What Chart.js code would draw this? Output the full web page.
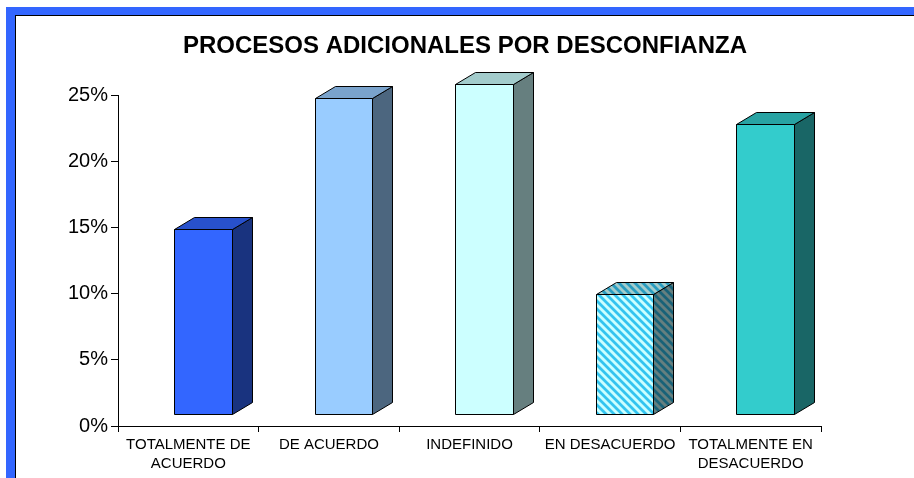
<!DOCTYPE html>
<html>
<head>
<meta charset="utf-8">
<script src="https://cdn.jsdelivr.net/npm/chart.js@4"></script>
<style>
body{margin:0;background:#fff;}
#frame{position:absolute;left:6px;top:7px;width:908px;height:471px;box-sizing:border-box;border-left:9px solid #3366ff;border-top:8px solid #3366ff;}
#inner{position:absolute;left:0;top:0;right:0;bottom:0;border-left:1px solid #000;border-top:1px solid #000;}
#wrap{position:absolute;left:16px;top:16px;width:898px;height:462px;}
</style>
</head>
<body>
<div id="frame"><div id="inner"></div></div>
<div id="wrap"><canvas id="c1"></canvas></div>
<script>
const categories = [['TOTALMENTE DE', 'ACUERDO'], 'DE ACUERDO', 'INDEFINIDO', 'EN DESACUERDO', ['TOTALMENTE EN', 'DESACUERDO']];
const values = [14.9, 24.8, 25.8, 10, 22.8]; // percent
const frontColors = ['#3366ff', '#99ccff', '#ccffff', 'stripes', '#33cccc'];
const yTicks = [0, 5, 10, 15, 20, 25];

const FONT = 'Liberation Sans, Arial, sans-serif';
const DX = 20, DY = 12;      // 3d depth
const SHIFT = 14.5, LIFT = 12;

const makeStripes = (ctx) => {
    const c = document.createElement('canvas');
    c.width = 8; c.height = 8;
    const g = c.getContext('2d');
    g.fillStyle = '#ccffff';
    g.fillRect(0, 0, 8, 8);
    g.strokeStyle = '#33c4f0';
    g.lineWidth = 2.8;
    g.beginPath();
    g.moveTo(-2, -2); g.lineTo(10, 10);
    g.moveTo(-2, 6); g.lineTo(2, 10);
    g.moveTo(6, -2); g.lineTo(10, 2);
    g.stroke();
    return ctx.createPattern(c, 'repeat');
};

const face = (ctx, pts, fill, shade) => {
    ctx.beginPath();
    ctx.moveTo(pts[0][0], pts[0][1]);
    for (let k = 1; k < pts.length; k++) ctx.lineTo(pts[k][0], pts[k][1]);
    ctx.closePath();
    ctx.fillStyle = fill;
    ctx.fill();
    if (shade) {
        ctx.fillStyle = 'rgba(0,0,0,' + shade + ')';
        ctx.fill();
    }
    ctx.stroke();
};

const bars3d = {
    id: 'bars3d',
    afterDatasetsDraw(chart) {
        const ctx = chart.ctx;
        const meta = chart.getDatasetMeta(0);
        ctx.save();
        ctx.strokeStyle = '#000';
        ctx.lineWidth = 1;
        ctx.lineJoin = 'miter';
        meta.data.forEach((bar, i) => {
            let fill = frontColors[i];
            if (fill === 'stripes') fill = makeStripes(ctx);
            const x0 = Math.round(bar.x - bar.width / 2 + SHIFT) + 0.5;
            const x1 = Math.round(bar.x + bar.width / 2 + SHIFT) + 0.5;
            const yT = Math.round(bar.y) + 0.5;
            const yB = Math.round(bar.base - LIFT) + 0.5;
            face(ctx, [[x1, yT], [x1 + DX, yT - DY], [x1 + DX, yB - DY], [x1, yB]], fill, 0.5);
            face(ctx, [[x0, yT], [x0 + DX, yT - DY], [x1 + DX, yT - DY], [x1, yT]], fill, 0.2);
            face(ctx, [[x0, yT], [x1, yT], [x1, yB], [x0, yB]], fill, 0);
        });
        ctx.restore();
    }
};

const data = {
    labels: categories,
    datasets: [{
        label: 'Procesos adicionales',
        data: values,
        backgroundColor: 'rgba(0,0,0,0)',
        borderWidth: 0,
        categoryPercentage: 1,
        barPercentage: 0.41
    }]
};

const options = {
    responsive: true,
    maintainAspectRatio: false,
    animation: false,
    layout: {padding: 0},
    plugins: {
        legend: {display: false},
        tooltip: {enabled: false},
        title: {
            display: true,
            text: 'PROCESOS ADICIONALES POR DESCONFIANZA',
            color: '#000',
            font: {family: FONT, size: 24, weight: 'bold', lineHeight: 1.2},
            padding: {top: 15.6, bottom: 34.6}
        }
    },
    scales: {
        x: {
            afterFit: (s) => { s.height = 52; },
            border: {color: '#000', width: 1},
            grid: {display: true, offset: true, drawOnChartArea: false, tickLength: 6, color: '#000'},
            ticks: {color: '#000', padding: 3, maxRotation: 0, autoSkip: false,
                font: {family: FONT, size: 15, lineHeight: 1.27}}
        },
        y: {
            min: 0,
            max: 25,
            afterFit: (s) => { s.width = 102; },
            afterBuildTicks: (s) => { s.ticks = yTicks.map(v => ({value: v})); },
            border: {color: '#000', width: 1},
            grid: {display: true, drawOnChartArea: false, tickLength: 7, color: '#000'},
            ticks: {color: '#000', padding: 3, font: {family: FONT, size: 20},
                callback: (v) => v + '%'}
        },
        // empty space on the right side of the plot
        y2: {
            position: 'right',
            min: 0,
            max: 25,
            afterFit: (s) => { s.width = 93; },
            border: {display: false},
            grid: {display: false},
            ticks: {display: false}
        }
    }
};

const c1 = new Chart(document.getElementById('c1'), {
    type: 'bar',
    data: data,
    options: options,
    plugins: [bars3d]
});
</script>
</body>
</html>
